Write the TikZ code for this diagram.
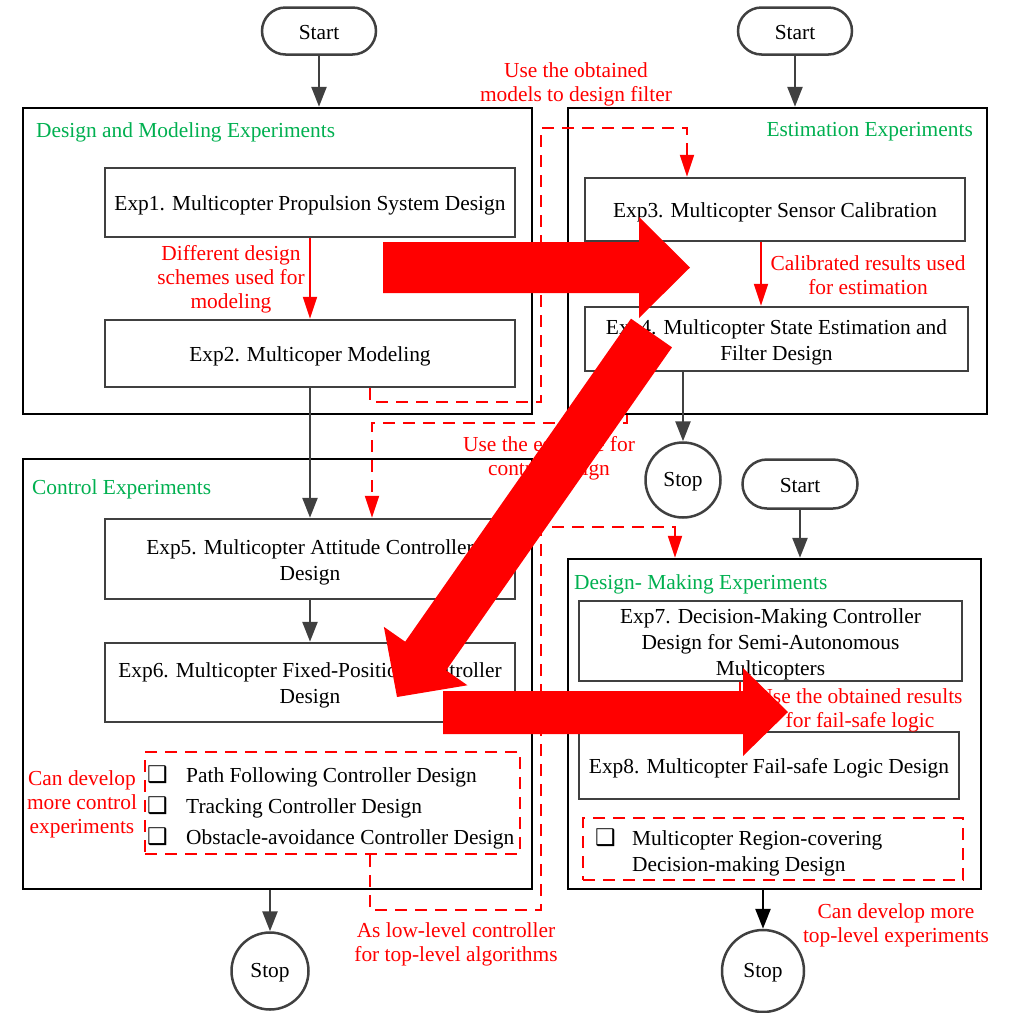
\documentclass[tikz,border=0pt]{standalone}
\usepackage{fontspec}
\setmainfont{Liberation Serif}
\newfontfamily\symfont{DejaVu Sans}
\usetikzlibrary{arrows.meta,calc}
\definecolor{dgray}{HTML}{404040}
\definecolor{tgreen}{HTML}{00B050}
\definecolor{bred}{HTML}{FF0000}
\begin{document}
\begin{tikzpicture}[x=1pt,y=-1pt,
  txt/.style={font=\fontsize{21.4}{26}\selectfont, align=center, inner sep=0pt},
  btxt/.style={label={[txt, yshift=-3pt]center:{#1}}},
  stxt/.style={label={[txt, yshift=-2pt]center:{#1}}},
  frame/.style={draw=black, line width=2.5pt, inner sep=0pt},
  expbox/.style={draw=dgray, line width=2.5pt, fill=white, inner sep=0pt},
  startn/.style={draw=dgray, line width=2.5pt, rounded corners=23.5pt, minimum width=114pt, minimum height=47pt, inner sep=0pt},
  stopn/.style={draw=dgray, line width=2.5pt, circle, inner sep=0pt},
  title/.style={txt, text=tgreen},
  rlabel/.style={txt, text=bred, font=\fontsize{21.4}{24}\selectfont},
  garrow/.style={draw=dgray, line width=2.5pt, -{Triangle[length=20pt,width=15pt]}},
  karrow/.style={draw=black, line width=2.5pt, -{Triangle[length=20pt,width=15pt]}},
  rarrow/.style={draw=bred, line width=2pt, -{Triangle[length=22pt,width=14pt]}},
  rdash/.style={draw=bred, line width=2pt, dash pattern=on 12pt off 8pt},
  rdasharrow/.style={rdash, -{Triangle[length=22pt,width=14pt]}},
  listbox/.style={draw=bred, line width=2pt, dash pattern=on 12pt off 8pt, inner sep=0pt},
  chk/.style={inner sep=0pt, font=\symfont\fontsize{23}{23}\selectfont},
  item/.style={txt, align=left},
  bigarrow/.style={fill=bred, draw=none}
]
\useasboundingbox (0,0) rectangle (1013,1013);
\fill[white] (0,0) rectangle (1013,1013);

% group frames
\node[frame, minimum width=509pt, minimum height=306pt] (g1) at (277.5,261) {};
\node[frame, minimum width=419pt, minimum height=306pt] (g2) at (777.5,261) {};
\node[frame, minimum width=509pt, minimum height=430pt] (g3) at (277.5,674) {};
\node[frame, minimum width=413pt, minimum height=330pt] (g4) at (774.5,724) {};

% titles
\node[title, anchor=west] (t1) at (36,132) {Design and Modeling Experiments};
\node[title, anchor=east] (t2) at (973,132) {Estimation Experiments};
\node[title, anchor=west] (t3) at (32,489) {Control Experiments};
\node[title, anchor=west] (t4) at (574,584) {Design- Making Experiments};

% start / stop
\node[startn, stxt=Start] (s1) at (319,31) {};
\node[startn, stxt=Start] (s2) at (795,31) {};
\node[startn, minimum width=115pt, minimum height=49pt, rounded corners=24.5pt, stxt=Start] (s3) at (800,484) {};
\node[stopn, minimum size=75pt, stxt=Stop] (st1) at (683,480) {};
\node[stopn, minimum size=77pt, stxt=Stop] (st2) at (270,971) {};
\node[stopn, minimum size=82pt, stxt=Stop] (st3) at (763,971) {};

% experiment boxes
\node[expbox, minimum width=410pt, minimum height=69pt, btxt={Exp1. Multicopter Propulsion System Design}] (e1) at (310,202.5) {};
\node[expbox, minimum width=410pt, minimum height=67pt, btxt={Exp2. Multicoper Modeling}] (e2) at (310,353.5) {};
\node[expbox, minimum width=380pt, minimum height=63pt, btxt={Exp3. Multicopter Sensor Calibration}] (e3) at (775,209.5) {};
\node[expbox, minimum width=383pt, minimum height=64pt, btxt={Exp4. Multicopter State Estimation and\\Filter Design}] (e4) at (776.5,339) {};
\node[expbox, minimum width=410pt, minimum height=80pt, btxt={Exp5. Multicopter Attitude Controller\\Design}] (e5) at (310,559) {};
\node[expbox, minimum width=410pt, minimum height=79pt, btxt={Exp6. Multicopter Fixed-Position Controller\\Design}] (e6) at (310,682.5) {};
\node[expbox, minimum width=383pt, minimum height=80pt, btxt={Exp7. Decision-Making Controller\\Design for Semi-Autonomous\\Multicopters}] (e7) at (770.5,641) {};
\node[expbox, minimum width=380pt, minimum height=67pt, btxt={Exp8. Multicopter Fail-safe Logic Design}] (e8) at (769,765.5) {};

% dashed list boxes
\node[listbox, minimum width=375pt, minimum height=102pt] (l1) at (332.5,803) {};
\node[chk, anchor=west] (c1) at (147,775) {❑};
\node[chk, anchor=west] (c2) at (147,806) {❑};
\node[chk, anchor=west] (c3) at (147,837) {❑};
\node[item, anchor=west] (i1) at (186,777) {Path Following Controller Design};
\node[item, anchor=west] (i2) at (186,808) {Tracking Controller Design};
\node[item, anchor=west] (i3) at (186,839) {Obstacle-avoidance Controller Design};

\node[listbox, minimum width=380pt, minimum height=62pt] (l2) at (773,849) {};
\node[chk, anchor=west] (c4) at (595,838) {❑};
\node[item, anchor=west] (i4) at (632,853) {Multicopter Region-covering\\Decision-making Design};

% helper coordinates
\coordinate (x370) at (370,0);
\coordinate (x372) at (372,0);
\coordinate (x627) at (627,0);
\coordinate (x675) at (675,0);
\coordinate (x687) at (687,0);
\coordinate (x740) at (740,0);
\coordinate (x761) at (761,0);

% solid connectors
\draw[garrow] (s1.south) -- (s1.south |- g1.north);
\draw[garrow] (s2.south) -- (s2.south |- g2.north);
\draw[garrow] (s3.south) -- (s3.south |- g4.north);
\draw[rarrow] (e1.south) -- (e2.north);
\draw[garrow] (e2.south) -- (e5.north);
\draw[garrow] (e5.south) -- (e6.north);
\draw[rarrow] (e3.south -| x761) -- (e4.north -| x761);
\draw[garrow] (e4.south -| st1) -- (st1.north);
\draw[garrow] (g3.south -| st2) -- (st2.north);
\draw[karrow] (g4.south -| st3) -- (st3.north);
\draw[rarrow] (e7.south -| x740) -- (e8.north -| x740);

% dashed connectors
\draw[rdasharrow] (e2.south -| x370) -- (370,402) -| (541,128) -| (e3.north -| x687);
\draw[rdasharrow] (g2.south -| x627) -- (627,423) -| (e5.north -| x372);
\draw[rdasharrow] (l1.south -| x370) -- (370,910) -| (541,527) -| (g4.north -| x675);

% red labels
\node[rlabel] (lb1) at (231,279) {Different design\\schemes used for\\modeling};
\node[rlabel] (lb2) at (576,84) {Use the obtained\\models to design filter};
\node[rlabel] (lb3) at (868,275) {Calibrated results used\\for estimation};
\node[rlabel] (lb4) at (549,458) {Use the estimate for\\control design};
\node[rlabel] (lb5) at (82,804) {Can develop\\more control\\experiments};
\node[rlabel] (lb6) at (456,944) {As low-level controller\\for top-level algorithms};
\node[rlabel] (lb7) at (860,710) {Use the obtained results\\for fail-safe logic};
\node[rlabel] (lb8) at (896,925) {Can develop more\\top-level experiments};

% big red arrows
\fill[bigarrow] (383,242) -- (639,242) -- (639,217) -- (690,267.5) -- (639,318) -- (639,293) -- (383,293) -- cycle;
\fill[bigarrow] (671.99,347.33) -- (446.14,670.36) -- (467.44,685.25) -- (397,697) -- (383.86,626.81) -- (405.16,641.70) -- (631.01,318.67) -- cycle;
\fill[bigarrow] (443,691) -- (743,691) -- (743,668) -- (788,712) -- (743,756) -- (743,734) -- (443,734) -- cycle;
\end{tikzpicture}
\end{document}
